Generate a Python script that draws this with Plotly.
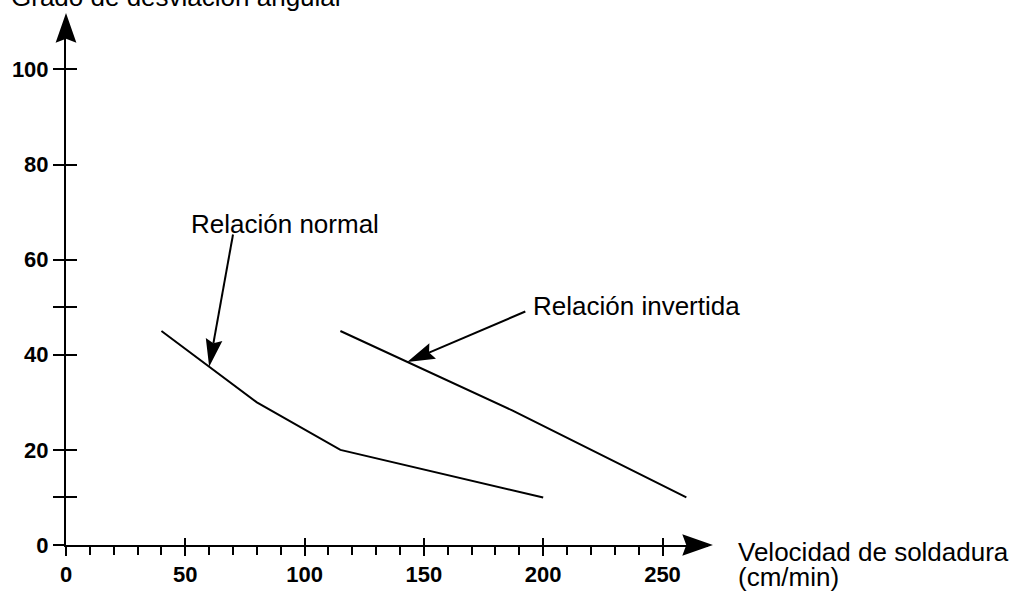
import math
import plotly.graph_objects as go

# ---------------- data ----------------
normal_x = [40, 60, 80, 115, 200]
normal_y = [45, 37.5, 30, 20, 10]

inv_x = [115, 187, 260]
inv_y = [45, 28.3, 10]

x_major = [0, 50, 100, 150, 200, 250]
x_major_labels = ["0", "50", "100", "150", "200", "250"]
x_minor = [10, 20, 30, 40, 60, 70, 80, 90, 110, 120, 130, 140,
           160, 170, 180, 190, 210, 220, 230, 240]
y_ticks = [0, 10, 20, 40, 50, 60, 80, 100]
y_tick_labels = ["0", "", "20", "40", "", "60", "80", "100"]

normal_label = "Relación normal"
inv_label = "Relación invertida"
normal_arrow_tip = (60, 37.5)
normal_arrow_tail = (70, 65.3)
inv_arrow_tip = (143, 38.5)
inv_arrow_tail = (192.5, 49.1)

x_title = ["Velocidad de soldadura", "(cm/min)"]
y_title = "Grado de desviación angular"

# ---------------- layout geometry ----------------
FIG_W, FIG_H = 1018, 599
PLOT_L, PLOT_R, PLOT_T, PLOT_B = 59, 708, 22, 551
X_MAX = (PLOT_R - PLOT_L) / 2.412
Y_MAX = (PLOT_B - PLOT_T) / 4.81
FONT = "Liberation Sans, Arial, Helvetica, sans-serif"


def d2px(x, y):
    return (PLOT_L + x / X_MAX * (PLOT_R - PLOT_L),
            PLOT_B - y / Y_MAX * (PLOT_B - PLOT_T))


def px2paper(px, py):
    return ((px - PLOT_L) / (PLOT_R - PLOT_L), (PLOT_B - py) / (PLOT_B - PLOT_T))


def head(tip, frm, length, half_w, notch):
    dx, dy = tip[0] - frm[0], tip[1] - frm[1]
    n = math.hypot(dx, dy)
    ux, uy = dx / n, dy / n
    bx, by = tip[0] - ux * length, tip[1] - uy * length
    vx, vy = -uy, ux
    pts = [tip,
           (bx + vx * half_w, by + vy * half_w),
           (tip[0] - ux * (length - notch), tip[1] - uy * (length - notch)),
           (bx - vx * half_w, by - vy * half_w)]
    pp = [px2paper(*p) for p in pts]
    path = "M " + " L ".join(f"{a:.5f},{b:.5f}" for a, b in pp) + " Z"
    notch_pt = pts[2]
    return path, notch_pt


fig = go.Figure()
fig.add_trace(go.Scatter(x=normal_x, y=normal_y, mode="lines",
                         line=dict(color="black", width=2),
                         hoverinfo="skip", xaxis="x", yaxis="y"))
fig.add_trace(go.Scatter(x=inv_x, y=inv_y, mode="lines",
                         line=dict(color="black", width=2),
                         hoverinfo="skip", xaxis="x2", yaxis="y2"))

shapes = []
# axis arrowheads
p, _ = head((PLOT_L, 13), (PLOT_L, PLOT_B), 30, 10.5, 4)
shapes.append(dict(type="path", xref="paper", yref="paper", path=p,
                   fillcolor="black", line=dict(width=0)))
p, _ = head((713, PLOT_B), (PLOT_L, PLOT_B), 31, 10.8, 4)
shapes.append(dict(type="path", xref="paper", yref="paper", path=p,
                   fillcolor="black", line=dict(width=0)))

# annotation arrows
for tip_d, tail_d in [(normal_arrow_tip, normal_arrow_tail),
                      (inv_arrow_tip, inv_arrow_tail)]:
    tip = d2px(*tip_d)
    tail = d2px(*tail_d)
    p, npt = head(tip, tail, 28, 8.5, 4)
    t0 = px2paper(*tail)
    t1 = px2paper(*npt)
    shapes.append(dict(type="line", xref="paper", yref="paper",
                       x0=t0[0], y0=t0[1], x1=t1[0], y1=t1[1],
                       line=dict(color="black", width=2)))
    shapes.append(dict(type="path", xref="paper", yref="paper", path=p,
                       fillcolor="black", line=dict(width=0)))

annotations = []


def text_ann(txt, left_px, base_px, size=26):
    cx, cy = px2paper(left_px, base_px - 0.3465 * size)
    annotations.append(dict(text=txt, x=cx, y=cy, xref="paper", yref="paper",
                            xanchor="left", yanchor="middle", showarrow=False,
                            font=dict(family=FONT, size=size, color="black"),
                            borderpad=0))


text_ann(normal_label, 184, 235)
text_ann(inv_label, 530, 318)
text_ann(x_title[0], 737, 567)
text_ann(x_title[1], 737, 592)
text_ann(y_title, 2, 6)

tickfont = dict(family=FONT, size=22, color="black", weight="bold")

fig.update_layout(
    width=FIG_W, height=FIG_H, autosize=False,
    margin=dict(l=PLOT_L, r=FIG_W - PLOT_R, t=PLOT_T, b=FIG_H - PLOT_B, pad=0),
    paper_bgcolor="white", plot_bgcolor="white", showlegend=False,
    xaxis=dict(range=[0, X_MAX], domain=[0, 1], anchor="y",
               showline=True, linecolor="black", linewidth=2,
               ticks="outside", ticklen=9, tickwidth=2, tickcolor="black",
               tickmode="array", tickvals=x_major, ticktext=x_major_labels,
               tickfont=tickfont, showgrid=False, zeroline=False, fixedrange=True,
               minor=dict(ticks="outside", ticklen=8, tickwidth=2, tickcolor="black",
                          tickmode="array", tickvals=x_minor, showgrid=False)),
    xaxis2=dict(range=[0, X_MAX], overlaying="x", anchor="y", side="bottom",
                showline=False, ticks="inside", ticklen=7, tickwidth=2,
                tickcolor="black", tickmode="array", tickvals=x_major[1:],
                showticklabels=False, showgrid=False, zeroline=False, fixedrange=True),
    yaxis=dict(range=[0, Y_MAX], domain=[0, 1], anchor="x",
               showline=True, linecolor="black", linewidth=2,
               ticks="outside", ticklen=11, tickwidth=2, tickcolor="black",
               tickmode="array", tickvals=y_ticks, ticktext=y_tick_labels,
               tickfont=tickfont, showgrid=False, zeroline=False, fixedrange=True),
    yaxis2=dict(range=[0, Y_MAX], overlaying="y", anchor="x", side="left",
                showline=False, ticks="inside", ticklen=11, tickwidth=2,
                tickcolor="black", tickmode="array", tickvals=y_ticks[1:],
                showticklabels=False, showgrid=False, zeroline=False, fixedrange=True),
    shapes=shapes,
    annotations=annotations,
)

fig.write_html("out.html", config={"displayModeBar": False},
               post_script="document.body.style.margin='0px';")
